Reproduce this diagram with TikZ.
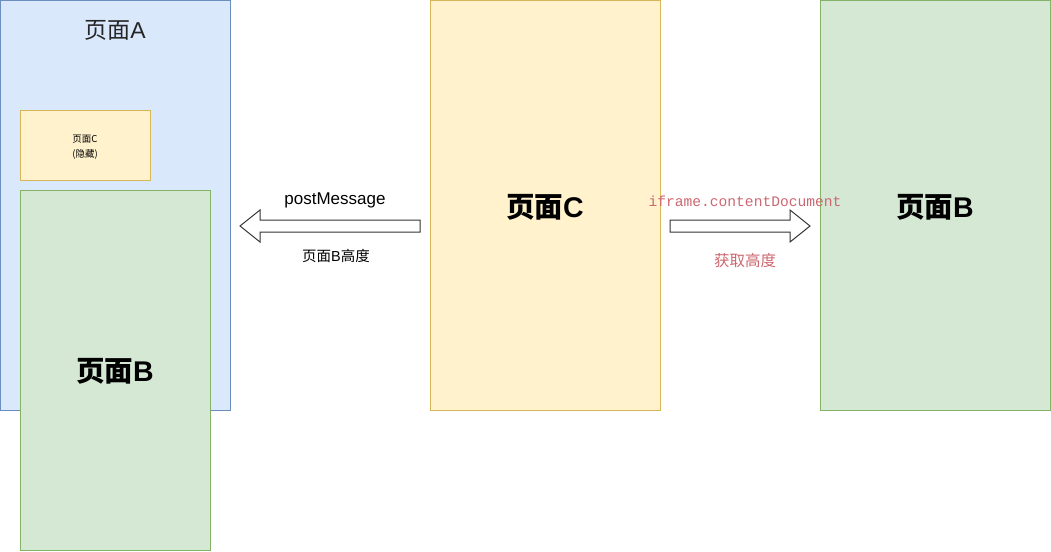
\documentclass[tikz,border=0pt]{standalone}
\usepackage{fontspec}
\setmainfont{Liberation Sans}
\newfontfamily\cjk{Noto Sans CJK SC}
\newfontfamily\monofam{Liberation Mono}
\definecolor{blueFill}{HTML}{DAE8FC}
\definecolor{blueLine}{HTML}{6C8EBF}
\definecolor{yelFill}{HTML}{FFF2CC}
\definecolor{yelLine}{HTML}{D6B656}
\definecolor{grnFill}{HTML}{D5E8D4}
\definecolor{grnLine}{HTML}{82B366}
\definecolor{redText}{HTML}{CC6670}
\tikzset{
  box/.style={rectangle, anchor=north west, line width=0.8pt, inner sep=0pt, outer sep=0pt},
  bluebox/.style={box, fill=blueFill, draw=blueLine},
  yelbox/.style={box, fill=yelFill, draw=yelLine},
  grnbox/.style={box, fill=grnFill, draw=grnLine},
  bigtitle/.style={font=\bfseries\fontsize{28.5}{30}\selectfont, text=black},
  blockarrow/.style={draw=black!80, line width=1pt, fill=white, line join=miter},
  lbl/.style={inner sep=0pt}
}
\begin{document}
\begin{tikzpicture}[x=1pt,y=-1pt]
\useasboundingbox (0,0) rectangle (1051,551);
% page A
\node[bluebox, minimum width=230pt, minimum height=410pt] (A) at (0.5,0.5) {};
\node[lbl, font=\fontsize{23}{25}\selectfont, text=black!85] (Atitle) at (115,30) {{\cjk 页面}A};
% hidden page C
\node[yelbox, minimum width=130pt, minimum height=70pt] (Chid) at (20.5,110.5) {};
\node[lbl, align=center, font=\cjk\fontsize{9.5}{15}\selectfont] (Chidtext) at (85,147.5) {页面C\\(隐藏)};
% page B left
\node[grnbox, minimum width=190pt, minimum height=360pt] (Bleft) at (20.5,190.5) {};
\node[lbl, bigtitle] (Blefttext) at (115,371) {{\cjk 页面}B};
% page C center
\node[yelbox, minimum width=230pt, minimum height=410pt] (C) at (430.5,0.5) {};
\node[lbl, bigtitle] (Ctext) at (545,207) {{\cjk 页面}C};
% page B right
\node[grnbox, minimum width=230pt, minimum height=410pt] (Bright) at (820.5,0.5) {};
\node[lbl, bigtitle] (Brighttext) at (935,207) {{\cjk 页面}B};
% left block arrow
\draw[blockarrow] (420,220) -- (260,220) -- (260,210) -- (240,226) -- (260,242) -- (260,232) -- (420,232) -- cycle;
\node[lbl, font=\fontsize{17}{20}\selectfont] (pm) at (335,200) {postMessage};
\node[lbl, font=\fontsize{14.5}{16}\selectfont] (pmh) at (336,256) {{\cjk 页面}B{\cjk 高度}};
% right block arrow
\draw[blockarrow] (670,220) -- (790,220) -- (790,210) -- (810,226) -- (790,242) -- (790,232) -- (670,232) -- cycle;
\node[lbl, font=\monofam\fontsize{14.6}{16}\selectfont, text=redText] (icd) at (745,201) {iframe.contentDocument};
\node[lbl, font=\cjk\fontsize{15.5}{17}\selectfont, text=redText] (hq) at (745,261) {获取高度};
\end{tikzpicture}
\end{document}
